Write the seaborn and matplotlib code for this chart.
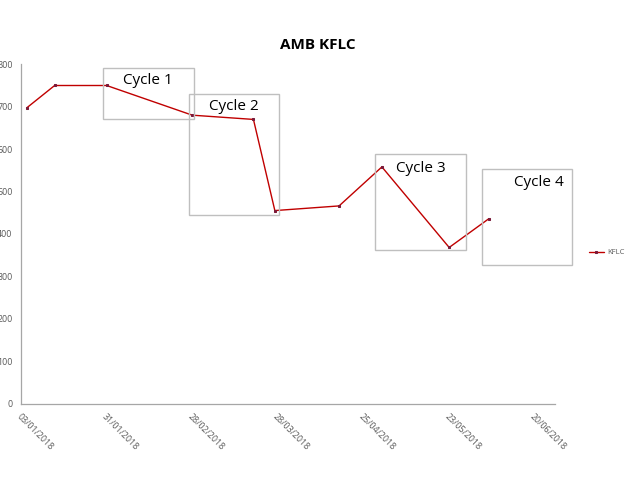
import matplotlib.pyplot as plt
import matplotlib.dates as mdates
import matplotlib.patches as mpatches
import numpy as np
import pandas as pd
import seaborn as sns

# values
dates = ["2018-01-05", "2018-01-14", "2018-01-31", "2018-02-28", "2018-03-20",
         "2018-03-27", "2018-04-17", "2018-05-01", "2018-05-23", "2018-06-05"]
kflc = [698, 750, 750, 680, 670, 455, 466, 558, 368, 436]
tick_dates = ["2018-01-03", "2018-01-31", "2018-02-28", "2018-03-28",
              "2018-04-25", "2018-05-23", "2018-06-20"]
cycle_labels = ["Cycle 1", "Cycle 2", "Cycle 3", "Cycle 4"]

df = pd.DataFrame({"Date": pd.to_datetime(dates), "KFLC": kflc})

sns.set_style("white")
plt.rcParams["font.family"] = ["Open Sans", "DejaVu Sans"]

fig = plt.figure(figsize=(6.4, 4.8), dpi=100)
W, H = 640, 480


def px(x0, y0, x1, y1):
    # pixel box -> figure fraction [left, bottom, width, height]
    return [x0 / W, 1 - y1 / H, (x1 - x0) / W, (y1 - y0) / H]


ax = fig.add_axes(px(21, 64.3, 555, 403.5))

sns.lineplot(data=df, x="Date", y="KFLC", ax=ax, color="#c00000", lw=1.0,
             marker="s", markersize=2.0, markerfacecolor="#7a1a3a",
             markeredgecolor="#7a1a3a", label="KFLC")

start = pd.Timestamp("2018-01-03")
ax.set_xlim(start, start + pd.Timedelta(days=174.6))
ax.set_ylim(0, 800)
ax.set_yticks(np.arange(0, 801, 100))
ax.set_xticks(pd.to_datetime(tick_dates))
ax.xaxis.set_major_formatter(mdates.DateFormatter("%d/%m/%Y"))
ax.set_xlabel("")
ax.set_ylabel("")

grey = "#a6a6a6"
for side in ["top", "right"]:
    ax.spines[side].set_visible(False)
for side in ["left", "bottom"]:
    ax.spines[side].set_color(grey)
    ax.spines[side].set_linewidth(0.9)
ax.tick_params(axis="both", colors=grey, length=3, width=0.8, direction="out",
               labelcolor="#595959", labelsize=6.4)
ax.tick_params(axis="y", pad=3)
for lab in ax.get_xticklabels():
    lab.set_rotation(-45)
    lab.set_ha("left")
    lab.set_va("top")
    lab.set_rotation_mode("anchor")

fig.text(318 / W, 1 - 45 / H, "AMB KFLC", ha="center", va="center",
         fontsize=11, fontweight="bold", color="black")

leg = ax.legend(loc="center left", bbox_to_anchor=(1.05, 0.445), frameon=False,
                fontsize=5.5, handlelength=2.0, handletextpad=0.4)
for t in leg.get_texts():
    t.set_color("#595959")

# cycle boxes (pixel positions from the reference)
boxes = [(103, 68, 194, 119), (189, 94, 279, 215),
         (375, 154, 466, 250), (482, 169, 572, 265)]
text_pos = [(148, 81), (234, 106), (421, 168), (539, 183)]
for (x0, y0, x1, y1), (tx, ty), lab in zip(boxes, text_pos, cycle_labels):
    fig.patches.append(mpatches.Rectangle((x0 / W, 1 - y1 / H), (x1 - x0) / W,
                                          (y1 - y0) / H, transform=fig.transFigure,
                                          fill=False, edgecolor="#bfbfbf", lw=1.0))
    fig.text(tx / W, 1 - ty / H, lab, ha="center", va="center", fontsize=11,
             color="black")

fig.savefig("out.png", dpi=100)
